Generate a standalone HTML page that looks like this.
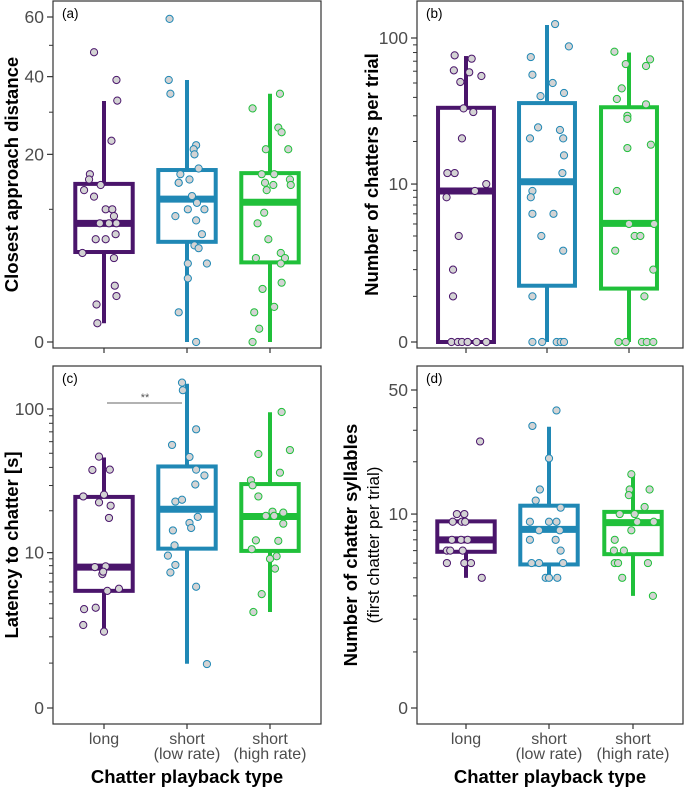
<!DOCTYPE html>
<html><head><meta charset="utf-8"><style>
html,body{margin:0;padding:0;background:#fff;}
svg{display:block;font-family:"Liberation Sans",Arial,sans-serif;}
</style></head><body>
<svg id="chart" width="685" height="789" viewBox="0 0 685 789" xmlns="http://www.w3.org/2000/svg"></svg>
<script>
const categories = ["long", "short (low rate)", "short (high rate)"];
const colors = ["#4a156b", "#2088b5", "#20c03a"];

// box stats: [q1, median, q3, whiskerLow, whiskerHigh]
const boxA = [[4.6,8.0,14.2,0.2,33],[5.7,11.6,16.8,0,39],[3.6,11.1,16.2,0,35]];
const boxB = [[0,8.9,34,0,75.8],[1.35,10.4,36.6,0,122],[1.25,5.06,34.3,0,80]];
const boxC = [[5.1,7.8,25,2.25,46.8],[10.7,20.5,40.6,0.98,148],[10.3,18.2,30.7,3.4,95]];
const boxD = [[5.9,7.0,9.05,4.0,9.05],[4.9,8.1,11.2,4.0,31.4],[5.7,8.9,10.3,3.0,16.8]];

// raw points per group
const ptsA0 = [47.7,39,33.1,23,16,15,14,13.1,12,10,10,9,8,8,8,6,6,6.6,4.5,4,1.8,1.2,0.8,0.2];
const jitA0 = [-0.12,0.15,0.16,0.09,-0.17,-0.18,-0.04,-0.24,-0.12,0.02,0.10,0.12,-0.05,0.06,0.15,-0.10,0.02,0.14,-0.26,0.12,0.13,0.15,-0.09,-0.08];
const ptsA1 = [59.3,39,35,22,21.1,20,17.1,16,14.4,14.4,15,12.1,11,10,10,9,8.4,6.6,5.3,5.0,3.5,3.5,2.3,0.5,0];
const jitA1 = [-0.21,-0.22,-0.20,0.11,0.08,0.09,0.14,-0.08,-0.10,-0.10,0.03,0.06,0.12,0.01,0.21,-0.14,0.11,0.18,0.09,0.14,0.01,0.24,0.01,-0.10,0.11];
const ptsA2 = [35,31,26.1,25,21.1,21.1,16,16,15,14,14.4,14,13.1,9.5,8,6,4.5,4,4,3.5,2,1.6,0.7,0.5,0.1,0];
const jitA2 = [0.12,-0.21,0.10,0.14,-0.05,0.22,-0.10,0.05,0.24,0.25,-0.06,0.04,-0.04,-0.07,-0.15,-0.02,0.13,0.18,-0.17,0.13,0.14,-0.09,0.05,-0.19,-0.13,-0.21];

const ptsB0 = [76.6,72.8,60.8,59,55.7,50.8,33.7,31.8,21,12,12,10,8.9,8,4,2,1,0,0,0,0,0,0];
const jitB0 = [-0.14,0.07,-0.15,0.04,0.19,-0.07,-0.03,0.09,-0.05,-0.23,-0.14,0.25,0.11,-0.24,-0.09,-0.16,-0.16,-0.18,-0.10,-0.05,0.02,0.13,0.25];
const ptsB1 = [123.8,87.9,74.6,56.8,50,42.8,40.8,25,24,21,21,16,12,8.9,8,6,6,4,3,1,0,0,0,0,0];
const jitB1 = [0.10,0.27,-0.20,-0.18,0.07,0.21,-0.08,-0.11,0.16,-0.21,0.20,0.21,0.19,-0.18,-0.20,-0.18,0.08,-0.07,0.20,-0.18,-0.18,-0.06,0.12,0.17,0.21];
const ptsB2 = [81,72,65,67,46,39,35.9,30,28.6,19,18,8.9,5,5,4,4,3,2,1,0,0,0,0,0];
const jitB2 = [-0.18,0.26,0.21,-0.04,-0.09,-0.15,0.21,-0.02,-0.02,0.27,-0.02,-0.15,0,0.31,0.07,0.14,-0.17,0.30,0.19,-0.13,-0.04,0.16,0.22,0.30];

const ptsC0 = [47.4,38.4,38.6,25.2,25.9,22.9,21.7,17.8,7.8,7.9,6.9,7.2,5.1,5.3,3.7,3.6,2.6,2.25];
const jitC0 = [-0.06,-0.14,0.07,-0.25,0,-0.06,0.08,0.06,-0.11,0.02,-0.02,-0.01,0.04,0.18,-0.10,-0.24,-0.25,0];
const ptsC1 = [150.7,134,72.8,57,47.2,38.6,35.2,30.5,23.2,23.9,18.1,16.4,15.1,14.5,11.3,9.5,8.1,7.1,5.5,0.97];
const jitC1 = [-0.06,-0.05,0.11,-0.18,0.03,0.11,0.21,0.10,-0.14,-0.06,0.13,0.03,0.05,-0.17,-0.15,-0.23,-0.14,-0.20,0.11,0.24];
const ptsC2 = [95.4,52.6,49.4,36.8,32.6,30.1,25.2,19.7,19.4,18.4,18.4,16.2,12.3,12.2,10.6,9.4,9.0,7.6,4.8,3.4];
const jitC2 = [0.14,0.24,-0.14,0.12,-0.23,-0.21,-0.14,0.03,0.16,-0.05,0.05,0.16,-0.17,0.10,-0.22,0.08,0,0.06,-0.10,-0.20];

const ptsD0 = [10,10,9,9,9,7,7,7,6,6,6,5,5,5,4,26];
const jitD0 = [-0.11,-0.02,-0.16,-0.05,-0.01,-0.17,-0.06,0.02,-0.23,-0.19,-0.04,-0.23,-0.02,0.06,0.19,0.17];
const ptsD1 = [38.6,31.7,20.9,13.9,12,10.9,9,9,9,8,8,7,7,6,5,5,5,4,4,4];
const jitD1 = [0.09,-0.20,0,-0.11,-0.16,0.14,-0.23,0,0.09,-0.12,0.13,-0.23,0.08,0.14,-0.21,-0.12,0.17,-0.04,0,0.10];
const ptsD2 = [17,13.9,13.9,12.9,11,10,10,9,9,8,7,6,6,5,5,5,4,3];
const jitD2 = [-0.02,-0.04,0.20,-0.05,0.14,-0.16,0.02,0.05,0.25,-0.02,-0.22,-0.23,-0.11,-0.22,-0.18,0.18,-0.13,0.24];

const ticksA = [0,20,40,60];  const minorA = [10,30,50];
const ticksB = [0,10,100];    const minorB = [1,2,3,4,5,6,7,8,9,20,30,40,50,60,70,80,90];
const ticksC = [0,10,100];    const minorC = [1,2,3,4,5,6,7,8,9,20,30,40,50,60,70,80,90];
const ticksD = [0,10,50];     const minorD = [1,2,3,4,5,6,7,8,9,20,30,40];

const NS = "http://www.w3.org/2000/svg";
const svg = document.getElementById("chart");
function mk(tag, attrs, parent) {
  const e = document.createElementNS(NS, tag);
  for (const k in attrs) e.setAttribute(k, attrs[k]);
  (parent || svg).appendChild(e);
  return e;
}

const panels = [
  {id:"a", left:53, right:321, top:1, bottom:348, centers:[104,187,270], zero:342, topPx:17, topVal:60, scale:"sqrt",
   box:boxA, pts:[ptsA0,ptsA1,ptsA2], jit:[jitA0,jitA1,jitA2], ticks:ticksA, minor:minorA, title:"Closest approach distance", xlab:false},
  {id:"b", left:417, right:683, top:1, bottom:348, centers:[466,547,629], zero:342, topPx:38, topVal:100, scale:"log",
   box:boxB, pts:[ptsB0,ptsB1,ptsB2], jit:[jitB0,jitB1,jitB2], ticks:ticksB, minor:minorB, title:"Number of chatters per trial", xlab:false},
  {id:"c", left:53, right:321, top:366, bottom:724, centers:[104,187,270], zero:708, topPx:409, topVal:100, scale:"log",
   box:boxC, pts:[ptsC0,ptsC1,ptsC2], jit:[jitC0,jitC1,jitC2], ticks:ticksC, minor:minorC, title:"Latency to chatter [s]", xlab:true},
  {id:"d", left:417, right:683, top:366, bottom:724, centers:[466,549,633], zero:708, topPx:390, topVal:50, scale:"log",
   box:boxD, pts:[ptsD0,ptsD1,ptsD2], jit:[jitD0,jitD1,jitD2], ticks:ticksD, minor:minorD, title:"Number of chatter syllables", sub:"(first chatter per trial)", xlab:true}
];

panels.forEach(p => {
  const f = p.scale === "sqrt" ? (v => Math.sqrt(v)) : (v => Math.log10(v + 1));
  const k = (p.zero - p.topPx) / f(p.topVal);
  const y = v => p.zero - k * f(v);
  const band = p.centers[1] - p.centers[0];
  const x = (i, j) => p.centers[i] + j * band;
  const g = mk("g", {});
  
  

  const frame = mk("rect", {x:p.left, y:p.top, width:p.right-p.left, height:p.bottom-p.top, fill:"none", stroke:"#333", "stroke-width":1.2}, g);
  
  

  p.ticks.forEach(t => {
    const ty = y(t);
    const tk = mk("line", {x1:p.left-6, x2:p.left, y1:ty, y2:ty, stroke:"#333", "stroke-width":1.2}, g);
    
    
    const tl = mk("text", {x:p.left-9, y:ty+6, "text-anchor":"end", "font-size":17.5, fill:"#4d4d4d"}, g);
    tl.textContent = t;
    
    
  });
  p.minor.forEach(t => {
    const ty = y(t);
    const tk = mk("line", {x1:p.left-4, x2:p.left, y1:ty, y2:ty, stroke:"#333", "stroke-width":1}, g);
    
    
  });
  p.centers.forEach((c, i) => {
    const tk = mk("line", {x1:c, x2:c, y1:p.bottom, y2:p.bottom+5, stroke:"#333", "stroke-width":1.2}, g);
    
    
    if (p.xlab) {
      const parts = i === 0 ? ["long"] : ["short", i === 1 ? "(low rate)" : "(high rate)"];
      parts.forEach((s, li) => {
        const tl = mk("text", {x:c, y:p.bottom+20+li*15, "text-anchor":"middle", "font-size":16, fill:"#4d4d4d"}, g);
        tl.textContent = s;
        
        
      });
    }
  });

  // y title
  const cy = (p.top + p.bottom) / 2;
  const tx = p.id === "a" || p.id === "c" ? 18 : (p.sub ? 357 : 378);
  const yt = mk("text", {x:tx, y:cy, transform:`rotate(-90 ${tx} ${cy})`, "text-anchor":"middle", "font-size":18.5, "font-weight":"bold", fill:"#000"}, g);
  yt.textContent = p.title;
  
  
  if (p.sub) {
    const st = mk("text", {x:tx+22, y:cy, transform:`rotate(-90 ${tx+22} ${cy})`, "text-anchor":"middle", "font-size":17, fill:"#000"}, g);
    st.textContent = p.sub;
    
    
  }
  const pl = mk("text", {x:p.left+9, y:p.top+17, "font-size":13.5, fill:"#000"}, g);
  pl.textContent = "(" + p.id + ")";
  
  

  if (p.xlab) {
    const xt = mk("text", {x:(p.left+p.right)/2, y:783, "text-anchor":"middle", "font-size":18.5, "font-weight":"bold", fill:"#000"}, g);
    xt.textContent = "Chatter playback type";
    
    
  }

  // boxes
  p.box.forEach((b, i) => {
    const c = p.centers[i], col = colors[i], hw = 0.37 * band - 2;
    const [q1, med, q3, wl, wh] = b;
    const w1 = mk("line", {x1:c, x2:c, y1:y(q3), y2:y(wh), stroke:col, "stroke-width":4}, g);
    
    
    const w2 = mk("line", {x1:c, x2:c, y1:y(q1), y2:y(wl), stroke:col, "stroke-width":4}, g);
    
    
    const r = mk("rect", {x:c-hw, y:y(q3), width:2*hw, height:y(q1)-y(q3), fill:"#fff", stroke:col, "stroke-width":4}, g);
    
    
    const m = mk("line", {x1:c-hw, x2:c+hw, y1:y(med), y2:y(med), stroke:col, "stroke-width":7}, g);
    
    
  });
  // points
  p.pts.forEach((arr, i) => {
    arr.forEach((v, j) => {
      const pt = mk("circle", {cx:x(i, p.jit[i][j] || 0), cy:y(v), r:3.6, fill:"#d3d3d3", stroke:colors[i], "stroke-width":1}, g);
      
      
    });
  });

  if (p.id === "c") {
    const sy = 403;
    const sl = mk("line", {x1:107, x2:182, y1:sy, y2:sy, stroke:"#666", "stroke-width":1}, g);
    
    
    const st = mk("text", {x:145, y:sy-2, "text-anchor":"middle", "font-size":11, fill:"#555"}, g);
    st.textContent = "**";
    
    
  }
});
</script>
</body></html>
